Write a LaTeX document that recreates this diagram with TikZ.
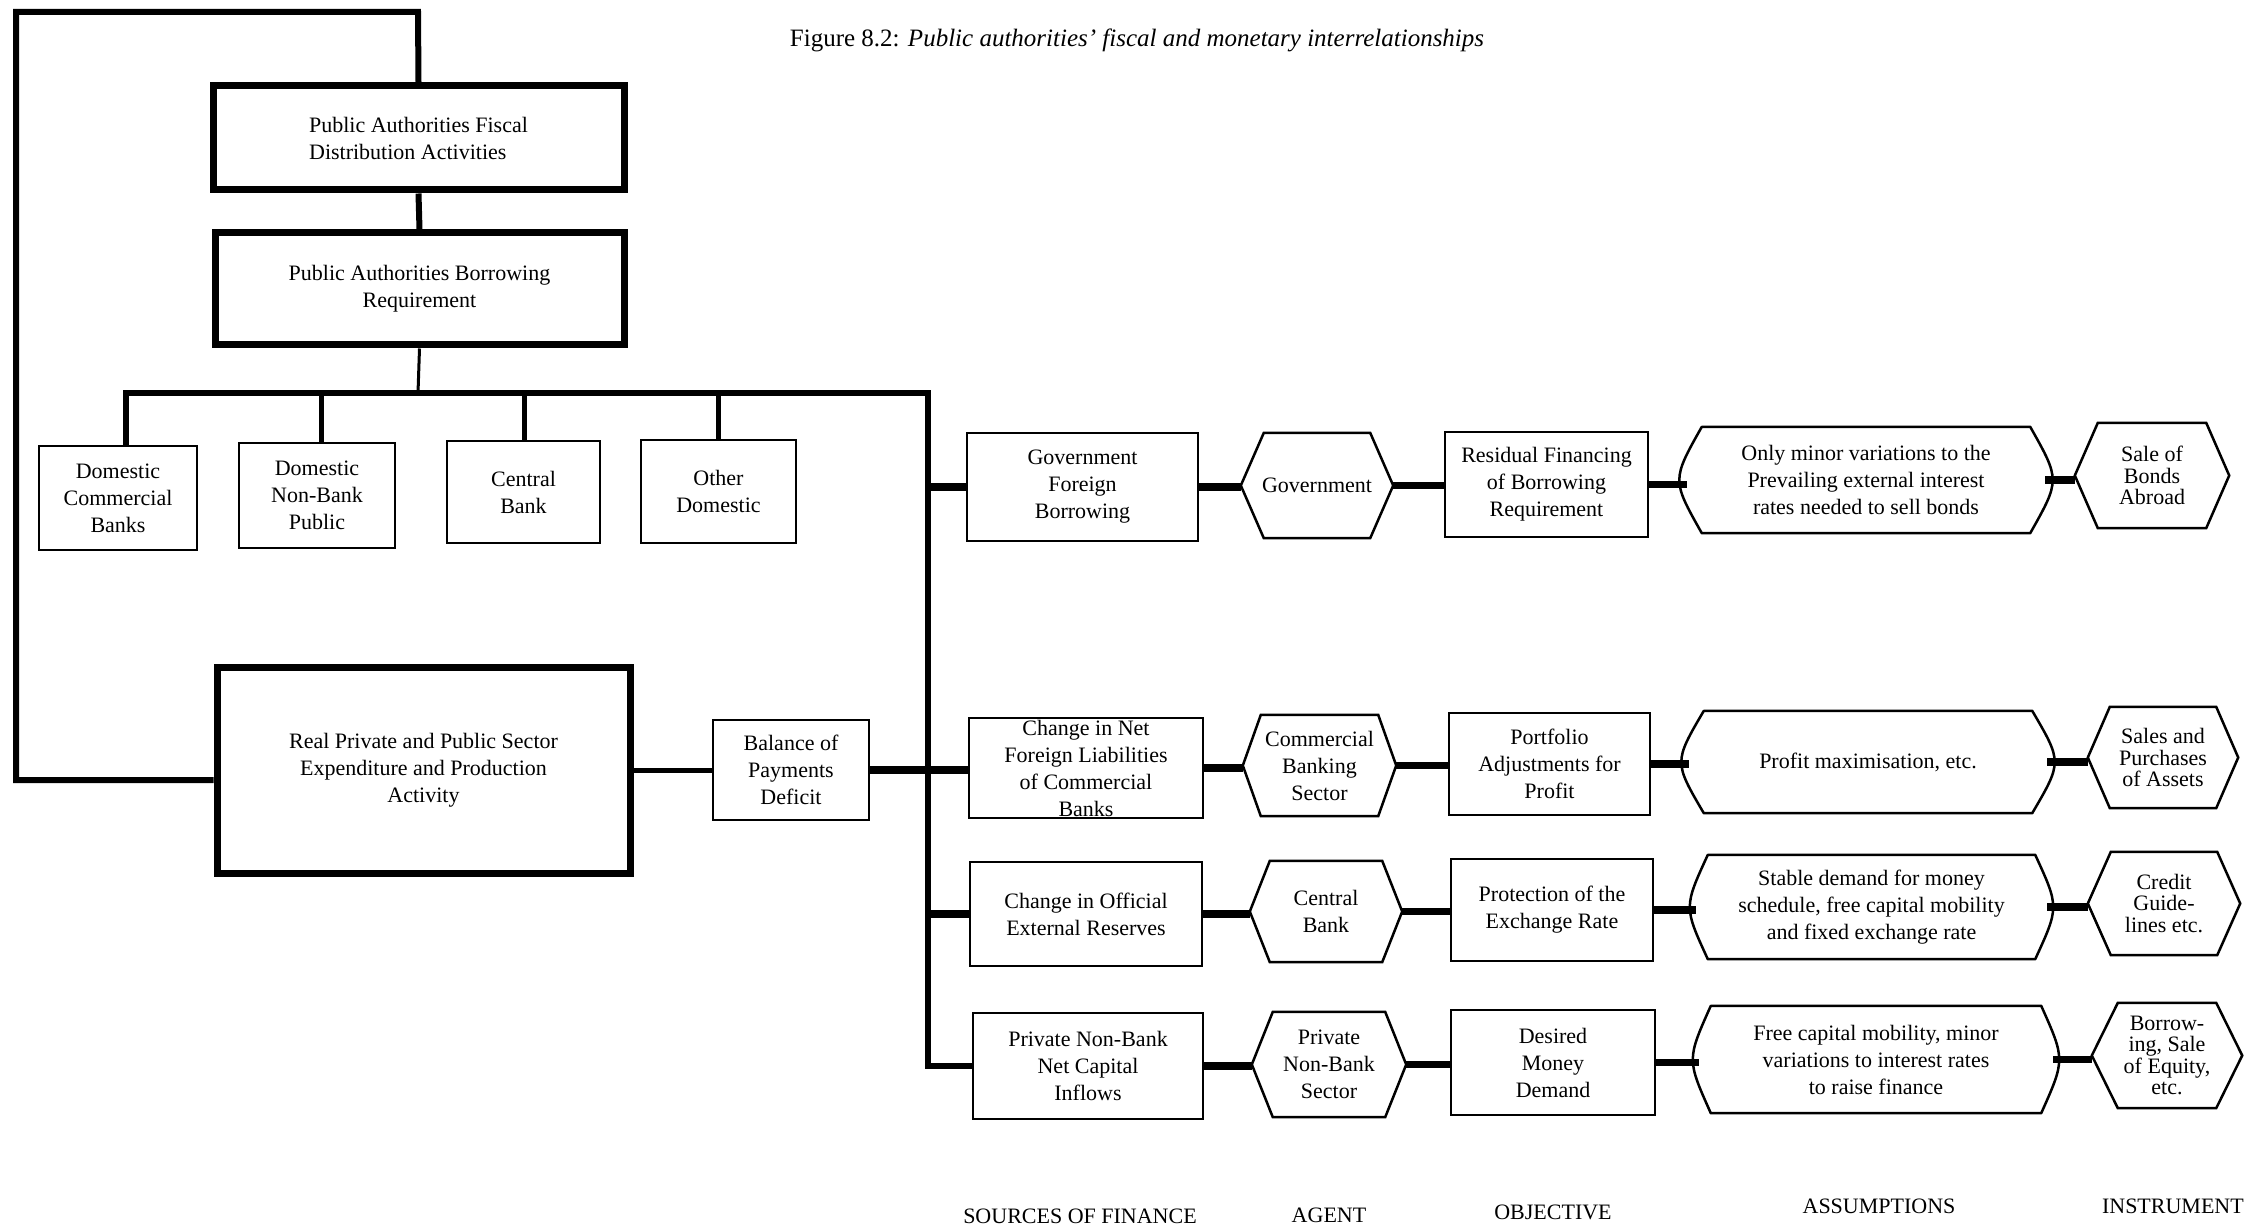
\documentclass[tikz,border=0pt]{standalone}
\usepackage{fontspec}
\setmainfont{Liberation Serif}
\newcommand\HexOutline[2]{\draw[line width=2.5pt,line join=miter] (#1.west) -- ([xshift=#2pt]#1.north west) -- ([xshift=-#2pt]#1.north east) -- (#1.east) -- ([xshift=-#2pt]#1.south east) -- ([xshift=#2pt]#1.south west) -- cycle;}
\newcommand\AsmOutline[2]{\draw[line width=2.5pt,line cap=round,line join=round] ([xshift=#2pt]#1.north west) -- ([xshift=-#2pt]#1.north east) .. controls ([xshift=#2pt]#1.east) .. ([xshift=-#2pt]#1.south east) -- ([xshift=#2pt]#1.south west) .. controls ([xshift=-#2pt]#1.west) .. ([xshift=#2pt]#1.north west);}
\begin{document}
\begin{tikzpicture}[x=1pt,y=-1pt,
  every node/.style={font=\fontsize{22}{27}\selectfont, align=center, inner sep=0pt},
  wh/.style 2 args={minimum width=#1pt, minimum height=#2pt},
  thinbox/.style={draw, line width=2.5pt},
  thickbox/.style={draw, line width=7pt},
  shapeonly/.style={draw=none},
  instr/.style={font=\fontsize{22}{21.5}\selectfont},
  frame/.style={line width=6pt, line join=miter},
  conn/.style={line width=7.5pt},
  drop/.style={line width=5pt},
  lbl/.style={font=\fontsize{22}{26}\selectfont}
]
\useasboundingbox (0,0) rectangle (2245,1230);

% title
\node (title) at (1137,40) {\fontsize{25}{30}\selectfont Figure 8.2: \textit{Public authorities’ fiscal and monetary interrelationships}};

% left part
\node[thickbox, wh={411}{104}, align=left] (fisc) at (418.5,138) {Public Authorities Fiscal\\Distribution Activities};
\node[thickbox, wh={409}{112}] (borr) at (419.5,289) {Public Authorities Borrowing\\Requirement};
\node[thinbox, wh={158}{104}] (dcb) at (118,498) {Domestic\\Commercial\\Banks};
\node[thinbox, wh={156}{105}] (dnbp) at (317,495.5) {Domestic\\Non-Bank\\Public};
\node[thinbox, wh={153}{102}] (cbk) at (523.5,492) {Central\\Bank};
\node[thinbox, wh={155}{103}] (odm) at (718.5,491.5) {Other\\Domestic};
\node[thickbox, wh={413}{206}] (real) at (423.5,770) {Real Private and Public Sector\\Expenditure and Production\\Activity};
\node[thinbox, wh={156}{100}] (bal) at (791,770) {Balance of\\Payments\\Deficit};

% row 1
\node[thinbox, wh={231}{108}] (src1) at (1082.5,487) {Government\\Foreign\\Borrowing};
\node[shapeonly, wh={152}{105}] (ag1) at (1317,485.5) {Government};
\node[thinbox, wh={203}{105}] (obj1) at (1546.5,484.5) {Residual Financing\\of Borrowing\\Requirement};
\node[shapeonly, wh={358}{106}] (as1) at (1866,480) {Only minor variations to the\\Prevailing external interest\\rates needed to sell bonds};
\node[shapeonly, instr, wh={154}{105}] (in1) at (2152,475.5) {Sale of\\Bonds\\Abroad};

% row 2
\node[thinbox, wh={234}{100}] (src2) at (1086,768) {Change in Net\\Foreign Liabilities\\of Commercial\\Banks};
\node[shapeonly, wh={153}{101}] (ag2) at (1319.5,765.5) {Commercial\\Banking\\Sector};
\node[thinbox, wh={201}{102}] (obj2) at (1549.5,764) {Portfolio\\Adjustments for\\Profit};
\node[shapeonly, wh={358}{102}] (as2) at (1868,762) {Profit maximisation, etc.};
\node[shapeonly, instr, wh={150}{101}] (in2) at (2163,757.5) {Sales and\\Purchases\\of Assets};

% row 3
\node[thinbox, wh={232}{104}] (src3) at (1086,914) {Change in Official\\External Reserves};
\node[shapeonly, wh={152}{101}] (ag3) at (1326,911.5) {Central\\Bank};
\node[thinbox, wh={202}{102}] (obj3) at (1552,910) {Protection of the\\Exchange Rate};
\node[shapeonly, wh={351}{104}] (as3) at (1871.5,907) {Stable demand for money\\schedule, free capital mobility\\and fixed exchange rate};
\node[shapeonly, instr, wh={152}{103}] (in3) at (2164,903.5) {Credit\\Guide-\\lines etc.};

% row 4
\node[thinbox, wh={230}{106}] (src4) at (1088,1066) {Private Non-Bank\\Net Capital\\Inflows};
\node[shapeonly, wh={154}{105}] (ag4) at (1329,1064.5) {Private\\Non-Bank\\Sector};
\node[thinbox, wh={204}{105}] (obj4) at (1553,1062.5) {Desired\\Money\\Demand};
\node[shapeonly, wh={354}{107}] (as4) at (1876,1059.5) {Free capital mobility, minor\\variations to interest rates\\to raise finance};
\node[shapeonly, instr, wh={150}{105}] (in4) at (2167,1055.5) {Borrow-\\ing, Sale\\of Equity,\\etc.};

% outlines of hexagons and assumption shapes
\HexOutline{ag1}{23}
\HexOutline{ag2}{18}
\HexOutline{ag3}{20}
\HexOutline{ag4}{21}
\HexOutline{in1}{23}
\HexOutline{in2}{22}
\HexOutline{in3}{23}
\HexOutline{in4}{26}
\AsmOutline{as1}{15}
\AsmOutline{as2}{15}
\AsmOutline{as3}{12}
\AsmOutline{as4}{12}

% column labels
\node[lbl] (c1) at (1080,1216) {SOURCES OF FINANCE};
\node[lbl] (c2) at (1329,1215) {AGENT};
\node[lbl] (c3) at (1553,1212) {OBJECTIVE};
\node[lbl] (c4) at (1879,1206) {ASSUMPTIONS};
\node[lbl, anchor=east] (c5) at (2244,1206) {INSTRUMENT};

% coordinates
\coordinate (fl) at (16,12);
\coordinate (ftop) at (418,12);
\coordinate (fb) at (16,780);
\coordinate (jc) at (418,393);
\coordinate (j1) at (126,393);
\coordinate (j2) at (321,393);
\coordinate (j3) at (524,393);
\coordinate (j4) at (718,393);
\coordinate (tr) at (928,393);

% connectors left
\draw[frame] ([yshift=-10pt]real.west) -- (fb) -- (fl) -- (ftop) -- (fisc.north);
\draw[line width=6pt] (fisc.south) -- (borr.south |- borr.north);
\draw[line width=3pt] (borr.south) -- (jc);
\draw[frame] (j1 |- dcb.north) -- (j1) -- (tr) -- (tr |- src4.west) -- (src4.west);
\draw[drop] (j2) -- (j2 |- dnbp.north);
\draw[drop] (j3) -- (j3 |- cbk.north);
\draw[drop] (j4) -- (j4 |- odm.north);
\draw[line width=5pt] (real.east) -- (bal.west);
\draw[conn] (bal.east) -- (bal.east -| src2.west);
\draw[conn] (src1.west -| tr) -- (src1.west);
\draw[conn] (src3.west -| tr) -- (src3.west);

% row connectors
\draw[conn] (src1.east) -- (src1.east -| ag1.west);
\draw[conn] (ag1.east) -- (ag1.east -| obj1.west);
\draw[conn] (obj1.east) -- (obj1.east -| as1.west);
\draw[conn] (as1.east) -- (as1.east -| in1.west);
\draw[conn] (src2.east) -- (src2.east -| ag2.west);
\draw[conn] (ag2.east) -- (ag2.east -| obj2.west);
\draw[conn] (obj2.east) -- (obj2.east -| as2.west);
\draw[conn] (as2.east) -- (as2.east -| in2.west);
\draw[conn] (src3.east) -- (src3.east -| ag3.west);
\draw[conn] (ag3.east) -- (ag3.east -| obj3.west);
\draw[conn] (obj3.east) -- (obj3.east -| as3.west);
\draw[conn] (as3.east) -- (as3.east -| in3.west);
\draw[conn] (src4.east) -- (src4.east -| ag4.west);
\draw[conn] (ag4.east) -- (ag4.east -| obj4.west);
\draw[conn] (obj4.east) -- (obj4.east -| as4.west);
\draw[conn] (as4.east) -- (as4.east -| in4.west);
\end{tikzpicture}
\end{document}
